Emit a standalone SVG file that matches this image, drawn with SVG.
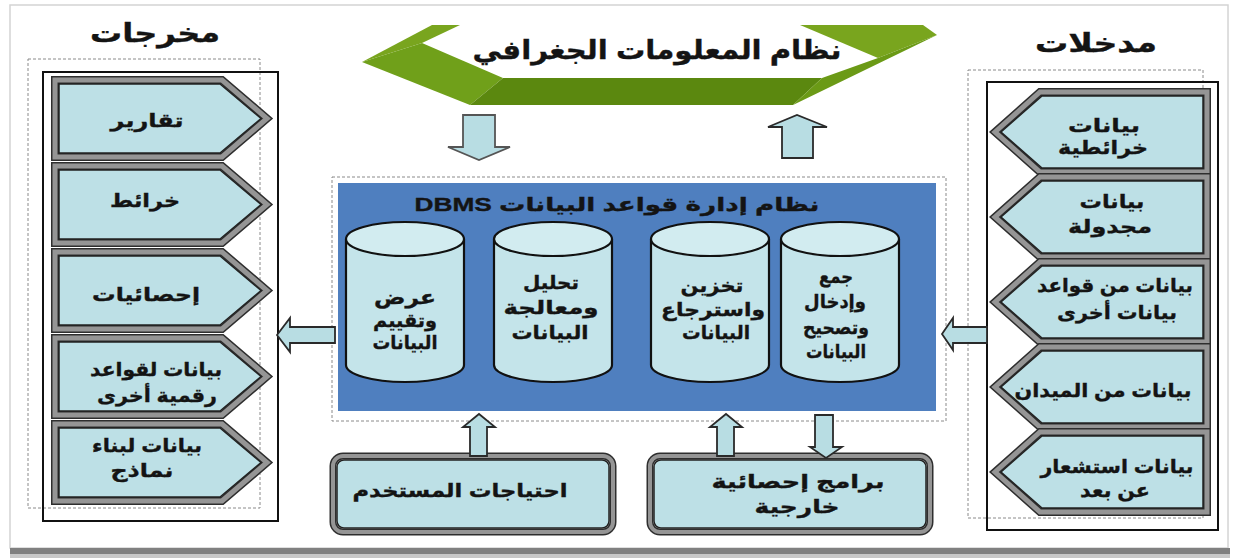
<svg xmlns="http://www.w3.org/2000/svg" width="1234" height="560" viewBox="0 0 1234 560">
<style>
.t{font-family:"Liberation Sans","DejaVu Sans",sans-serif;font-weight:bold;fill:#141414;stroke:#141414;stroke-width:0.35;text-anchor:middle}
.ttl{font-size:26px}
.pt{font-size:19px}
.ct{font-size:19px}
.bt{font-size:19px}
.po{fill:none;stroke:#2e2e2e;stroke-width:8;stroke-linejoin:miter}
.pg{fill:none;stroke:#959595;stroke-width:5;stroke-linejoin:miter}
.pi{fill:#bde0e6;stroke:#222;stroke-width:1.5}
.cyl{fill:#c4e4ea;stroke:#111;stroke-width:2.2}
.cyt{fill:#d2ecf0;stroke:#111;stroke-width:2.2}
.ar{fill:#b8dde3;stroke:#2a2a2a;stroke-width:1.8;stroke-linejoin:miter}
.dash{fill:none;stroke:#8a8a8a;stroke-width:1;stroke-dasharray:3 2}
.frame{fill:none;stroke:#111;stroke-width:2}
</style>
<defs>
<polygon id="pL" points="0,0 167,0 212,38.5 167,77 0,77"/>
<polygon id="pLi" points="4,4 165,4 206,38.5 165,73 4,73"/>
<polygon id="pR" points="0,40 45,0 212,0 212,80 45,80"/>
<polygon id="pRi" points="6,40 47,4 208,4 208,76 47,76"/>
<rect id="rb" x="0" y="0" width="280" height="76" rx="10"/>
<rect id="rbi" x="4" y="4" width="272" height="68" rx="7"/>
</defs>

<!-- page frame -->
<rect x="0" y="0" width="1234" height="560" fill="#ffffff"/>
<rect x="10" y="5" width="1218" height="543" fill="#ffffff" stroke="#d4d4d4" stroke-width="1.5"/>
<rect x="10" y="548" width="1220" height="6" fill="#808080"/>
<rect x="10" y="554" width="1220" height="4" fill="#c8c8c8"/>

<!-- titles -->
<g id="title-outputs"><text class="t ttl" x="155" y="42" textLength="130" lengthAdjust="spacingAndGlyphs">مخرجات</text></g>
<g id="title-inputs"><text class="t ttl" x="1096" y="52" textLength="122" lengthAdjust="spacingAndGlyphs">مدخلات</text></g>

<!-- GIS banner -->
<g id="gis">
<polygon points="362,62 432,25 460,25 422,43" fill="#79a51e"/>
<polygon points="362,62 422,43 503,78 470,105" fill="#70a01a"/>
<polygon points="503,78 822,78 793,105 470,105" fill="#5b880f"/>
<polygon points="800,25 923,25 937,35 878,58" fill="#79a51e"/>
<polygon points="878,58 937,35 793,105 822,78" fill="#6b9a16"/>
<text class="t" style="font-size:26px" x="657" y="59" textLength="369" lengthAdjust="spacingAndGlyphs">نظام المعلومات الجغرافي</text>
</g>

<!-- outputs column -->
<rect class="dash" x="28" y="59" width="232" height="449"/>
<rect class="frame" x="43" y="72" width="235" height="449"/>
<g id="out-reports" transform="translate(55,80)">
<use href="#pL" class="po"/><use href="#pL" class="pg"/><use href="#pLi" class="pi"/>
<text class="t pt" x="92" y="47" textLength="73" lengthAdjust="spacingAndGlyphs">تقارير</text></g>
<g id="out-maps" transform="translate(55,166)">
<use href="#pL" class="po"/><use href="#pL" class="pg"/><use href="#pLi" class="pi"/>
<text class="t pt" x="90" y="41" textLength="70" lengthAdjust="spacingAndGlyphs">خرائط</text></g>
<g id="out-stats" transform="translate(55,252)">
<use href="#pL" class="po"/><use href="#pL" class="pg"/><use href="#pLi" class="pi"/>
<text class="t pt" x="91" y="49" textLength="108" lengthAdjust="spacingAndGlyphs">إحصائيات</text></g>
<g id="out-digital" transform="translate(55,338)">
<use href="#pL" class="po"/><use href="#pL" class="pg"/><use href="#pLi" class="pi"/>
<text class="t pt" x="101" y="38" textLength="132" lengthAdjust="spacingAndGlyphs">بيانات لقواعد</text>
<text class="t pt" x="102" y="64" textLength="120" lengthAdjust="spacingAndGlyphs">رقمية أخرى</text></g>
<g id="out-models" transform="translate(55,424)">
<use href="#pL" class="po"/><use href="#pL" class="pg"/><use href="#pLi" class="pi"/>
<text class="t pt" x="92" y="28" textLength="110" lengthAdjust="spacingAndGlyphs">بيانات لبناء</text>
<text class="t pt" x="87" y="53" textLength="63" lengthAdjust="spacingAndGlyphs">نماذج</text></g>

<!-- inputs column -->
<rect class="dash" x="968" y="70" width="235" height="448"/>
<rect class="frame" x="987" y="82" width="231" height="448"/>
<g id="in-maps" transform="translate(995,92)">
<use href="#pR" class="po"/><use href="#pR" class="pg"/><use href="#pRi" class="pi"/>
<text class="t pt" x="109" y="40" textLength="72" lengthAdjust="spacingAndGlyphs">بيانات</text>
<text class="t pt" x="108" y="62" textLength="90" lengthAdjust="spacingAndGlyphs">خرائطية</text></g>
<g id="in-tables" transform="translate(995,177)">
<use href="#pR" class="po"/><use href="#pR" class="pg"/><use href="#pRi" class="pi"/>
<text class="t pt" x="117" y="31" textLength="65" lengthAdjust="spacingAndGlyphs">بيانات</text>
<text class="t pt" x="115" y="56" textLength="84" lengthAdjust="spacingAndGlyphs">مجدولة</text></g>
<g id="in-otherdb" transform="translate(995,262)">
<use href="#pR" class="po"/><use href="#pR" class="pg"/><use href="#pRi" class="pi"/>
<text class="t pt" x="120" y="30" textLength="156" lengthAdjust="spacingAndGlyphs">بيانات من قواعد</text>
<text class="t pt" x="122" y="57" textLength="120" lengthAdjust="spacingAndGlyphs">بيانات أخرى</text></g>
<g id="in-field" transform="translate(995,347)">
<use href="#pR" class="po"/><use href="#pR" class="pg"/><use href="#pRi" class="pi"/>
<text class="t pt" x="108" y="50" textLength="177" lengthAdjust="spacingAndGlyphs">بيانات من الميدان</text></g>
<g id="in-remote" transform="translate(995,432)">
<use href="#pR" class="po"/><use href="#pR" class="pg"/><use href="#pRi" class="pi"/>
<text class="t pt" x="122" y="41" textLength="153" lengthAdjust="spacingAndGlyphs">بيانات استشعار</text>
<text class="t pt" x="120" y="65" textLength="70" lengthAdjust="spacingAndGlyphs">عن بعد</text></g>

<!-- DBMS -->
<g id="dbms">
<rect x="332" y="177" width="614" height="244" fill="#ffffff" stroke="#8a8a8a" stroke-width="1" stroke-dasharray="3 2"/>
<rect x="338" y="183" width="598" height="228" fill="#4f7fbf"/>
<text class="t" style="font-size:19px" direction="rtl" x="617" y="211" textLength="405" lengthAdjust="spacingAndGlyphs">نظام إدارة قواعد البيانات DBMS</text>
</g>
<g id="cyl-display">
<path class="cyl" d="M346,239 L346,365 A59,17 0 0 0 464,365 L464,239"/>
<ellipse class="cyt" cx="405" cy="239" rx="59" ry="17"/>
<text class="t ct" x="405" y="304" textLength="62" lengthAdjust="spacingAndGlyphs">عرض</text>
<text class="t ct" x="405" y="327" textLength="64" lengthAdjust="spacingAndGlyphs">وتقييم</text>
<text class="t ct" x="405" y="349" textLength="65" lengthAdjust="spacingAndGlyphs">البيانات</text></g>
<g id="cyl-analysis">
<path class="cyl" d="M494,239 L494,365 A59,17 0 0 0 612,365 L612,239"/>
<ellipse class="cyt" cx="553" cy="239" rx="59" ry="17"/>
<text class="t ct" x="551" y="289" textLength="56" lengthAdjust="spacingAndGlyphs">تحليل</text>
<text class="t ct" x="551" y="314" textLength="95" lengthAdjust="spacingAndGlyphs">ومعالجة</text>
<text class="t ct" x="550" y="339" textLength="77" lengthAdjust="spacingAndGlyphs">البيانات</text></g>
<g id="cyl-storage">
<path class="cyl" d="M651,239 L651,365 A59,17 0 0 0 769,365 L769,239"/>
<ellipse class="cyt" cx="710" cy="239" rx="59" ry="17"/>
<text class="t ct" x="712" y="292" textLength="63" lengthAdjust="spacingAndGlyphs">تخزين</text>
<text class="t ct" x="713" y="316" textLength="104" lengthAdjust="spacingAndGlyphs">واسترجاع</text>
<text class="t ct" x="716" y="339" textLength="68" lengthAdjust="spacingAndGlyphs">البيانات</text></g>
<g id="cyl-collect">
<path class="cyl" d="M781,239 L781,365 A59,17 0 0 0 899,365 L899,239"/>
<ellipse class="cyt" cx="840" cy="239" rx="59" ry="17"/>
<text class="t ct" x="836" y="283" textLength="34" lengthAdjust="spacingAndGlyphs">جمع</text>
<text class="t ct" x="835" y="308" textLength="62" lengthAdjust="spacingAndGlyphs">وإدخال</text>
<text class="t ct" x="836" y="334" textLength="66" lengthAdjust="spacingAndGlyphs">وتصحيح</text>
<text class="t ct" x="836" y="358" textLength="60" lengthAdjust="spacingAndGlyphs">البيانات</text></g>

<!-- bottom boxes -->
<g id="user-needs" transform="translate(333,456)">
<use href="#rb" class="po" style="stroke-width:7"/><use href="#rb" class="pg" style="stroke-width:4"/><use href="#rbi" class="pi"/>
<text class="t bt" x="127" y="41" textLength="215" lengthAdjust="spacingAndGlyphs">احتياجات المستخدم</text></g>
<g id="stat-programs" transform="translate(650,456)">
<use href="#rb" class="po" style="stroke-width:7"/><use href="#rb" class="pg" style="stroke-width:4"/><use href="#rbi" class="pi"/>
<text class="t bt" x="148" y="32" textLength="173" lengthAdjust="spacingAndGlyphs">برامج إحصائية</text>
<text class="t bt" x="147" y="57" textLength="85" lengthAdjust="spacingAndGlyphs">خارجية</text></g>

<!-- connectors -->
<g id="connectors">
<polygon class="ar" style="stroke:#555" points="463,115 495,115 495,147 510,147 479,160 448,147 463,147"/>
<polygon class="ar" points="782,158 782,127 768,127 797,115 827,127 813,127 813,158"/>
<polygon class="ar" points="277,335 290,318 290,327 335,327 335,343 290,343 290,352"/>
<polygon class="ar" points="942,334 953,318 953,327 987,327 987,343 953,343 953,350"/>
<polygon class="ar" points="470,456 470,427 463,427 479,414 495,427 487,427 487,456"/>
<polygon class="ar" points="717,456 717,427 710,427 726,414 742,427 734,427 734,456"/>
<polygon class="ar" points="815,415 833,415 833,447 842,447 826,458 810,447 815,447"/>
</g>
</svg>
